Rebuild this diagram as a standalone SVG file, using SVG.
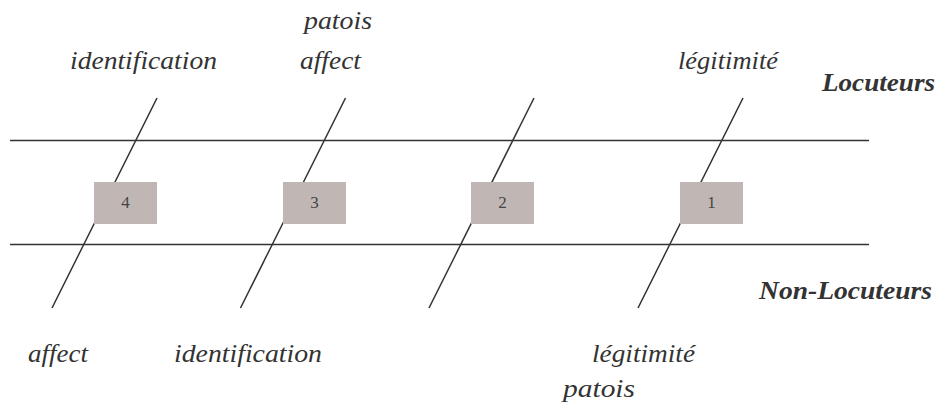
<svg xmlns="http://www.w3.org/2000/svg" width="939" height="412" viewBox="0 0 939 412" font-family="Liberation Serif, Times New Roman, serif">
<style>
.ln{stroke:#333;stroke-width:1.5;fill:none}
.box{fill:#c0b6b4}
.num{font-size:17px;fill:#444;text-anchor:middle}
.lab{font-style:italic;font-size:25px;fill:#333}
.head{font-style:italic;font-weight:bold;font-size:25px;fill:#333}
</style>
<rect width="939" height="412" fill="#fff"/>
<g id="connectors">
<line class="ln" x1="10" y1="140.5" x2="869" y2="140.5"/>
<line class="ln" x1="10" y1="244.5" x2="869" y2="244.5"/>
<line class="ln" x1="157" y1="98" x2="52" y2="308"/>
<line class="ln" x1="345.5" y1="98" x2="240.5" y2="308"/>
<line class="ln" x1="534" y1="98" x2="429" y2="308"/>
<line class="ln" x1="743" y1="98" x2="638" y2="308"/>
</g>
<g id="node4"><rect class="box" x="94" y="182" width="63" height="42"/><text class="num" x="125.5" y="208" font-family="Liberation Serif, serif">4</text></g>
<g id="node3"><rect class="box" x="283" y="182" width="63" height="42"/><text class="num" x="314.5" y="208" font-family="Liberation Serif, serif">3</text></g>
<g id="node2"><rect class="box" x="471" y="182" width="63" height="42"/><text class="num" x="502.5" y="208" font-family="Liberation Serif, serif">2</text></g>
<g id="node1"><rect class="box" x="680" y="182" width="63" height="42"/><text class="num" x="711.5" y="208" font-family="Liberation Serif, serif">1</text></g>
<g id="labels" font-family="Liberation Serif, serif">
<text class="lab" x="304" y="29" textLength="68" lengthAdjust="spacingAndGlyphs">patois</text>
<text class="lab" x="70" y="69" textLength="147" lengthAdjust="spacingAndGlyphs">identification</text>
<text class="lab" x="300" y="69" textLength="61" lengthAdjust="spacingAndGlyphs">affect</text>
<text class="lab" x="678" y="69" textLength="100" lengthAdjust="spacingAndGlyphs">légitimité</text>
<text class="head" x="822" y="91" textLength="113" lengthAdjust="spacingAndGlyphs">Locuteurs</text>
<text class="head" x="759" y="299" textLength="173" lengthAdjust="spacingAndGlyphs">Non-Locuteurs</text>
<text class="lab" x="28" y="362" textLength="60" lengthAdjust="spacingAndGlyphs">affect</text>
<text class="lab" x="174" y="362" textLength="148" lengthAdjust="spacingAndGlyphs">identification</text>
<text class="lab" x="592" y="362" textLength="103" lengthAdjust="spacingAndGlyphs">légitimité</text>
<text class="lab" x="563" y="397" textLength="72" lengthAdjust="spacingAndGlyphs">patois</text>
</g>
</svg>
